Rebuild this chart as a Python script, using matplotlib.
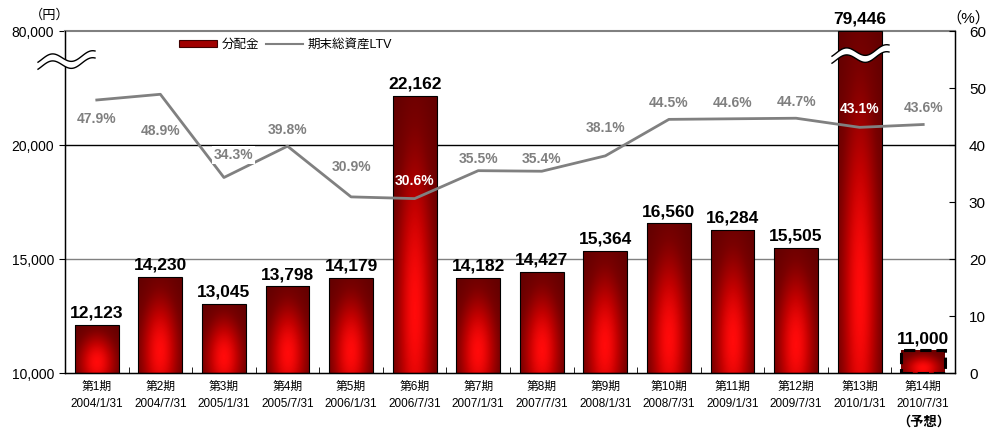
import matplotlib.pyplot as plt
import numpy as np
from matplotlib.patches import Patch, Polygon
from matplotlib.lines import Line2D
from matplotlib.colors import LinearSegmentedColormap

# --- DATA ---
periods = ["第1期", "第2期", "第3期", "第4期", "第5期", "第6期", "第7期",
           "第8期", "第9期", "第10期", "第11期", "第12期", "第13期", "第14期"]
dates = ["2004/1/31", "2004/7/31", "2005/1/31", "2005/7/31", "2006/1/31",
         "2006/7/31", "2007/1/31", "2007/7/31", "2008/1/31", "2008/7/31",
         "2009/1/31", "2009/7/31", "2010/1/31", "2010/7/31"]
dividend = [12123, 14230, 13045, 13798, 14179, 22162, 14182,
            14427, 15364, 16560, 16284, 15505, 79446, 11000]
ltv = [47.9, 48.9, 34.3, 39.8, 30.9, 30.6, 35.5,
       35.4, 38.1, 44.5, 44.6, 44.7, 43.1, 43.6]
# label heights (in % units) for the LTV annotations
ltv_label_y = [44.6, 42.5, 38.2, 42.6, 36.1, 33.7, 37.5,
               37.5, 43.0, 47.4, 47.4, 47.6, 46.3, 46.5]

FONT = ['Liberation Sans', 'Noto Sans CJK JP', 'DejaVu Sans']
plt.rcParams['font.family'] = FONT

Y_MIN, Y_CUT = 10000, 25000   # axis is linear up to the cut, which is labelled 80,000

fig = plt.figure(figsize=(10, 4.29), dpi=100)
ax = fig.add_axes([0.065, 0.1305, 0.89, 0.7972])
ax.set_xlim(-0.5, 13.5)
ax.set_ylim(Y_MIN, Y_CUT)

# gridlines behind bars
ax.axhline(15000, color='#808080', lw=1, zorder=0)
ax.axhline(20000, color='black', lw=1, zorder=0)

# bar shading
cmap = LinearSegmentedColormap.from_list(
    'redbar', ['#4a0000', '#7a0000', '#c00000', '#ff0a0a'])
ny, nx = 100, 40
u = np.linspace(1, 0, ny)[:, None]     # 1 at top
v = np.linspace(0, 1, nx)[None, :]
bv = np.exp(-((u - 0.22) / 0.55) ** 2)
bh = np.exp(-((v - 0.5) / 0.42) ** 2)
shade = 0.15 + 0.85 * bv * bh

x = np.arange(len(dividend))
w = 0.69
for i, val in enumerate(dividend):
    top = min(val, Y_CUT)
    ls = '--' if i == len(dividend) - 1 else '-'
    lw = 2.2 if ls == '--' else 0.8
    bar = ax.bar(x[i], top - Y_MIN, bottom=Y_MIN, width=w,
                 facecolor='none', edgecolor='black', lw=lw, linestyle=ls,
                 zorder=3)[0]
    im = ax.imshow(shade, cmap=cmap, vmin=0, vmax=1, aspect='auto',
                   extent=(x[i] - w / 2, x[i] + w / 2, Y_MIN, top),
                   zorder=2, interpolation='bilinear')
    im.set_clip_path(bar)
    ax.text(x[i], top + 180, f"{val:,}", ha='center', va='bottom',
            fontsize=12.5, fontweight='bold', clip_on=False, zorder=5)
ax.set_xlim(-0.5, 13.5)
ax.set_ylim(Y_MIN, Y_CUT)

ax.set_yticks([10000, 15000, 20000, 25000])
ax.set_yticklabels(["10,000", "15,000", "20,000", "80,000"], fontsize=10)
ax.tick_params(axis='y', direction='out', length=4, pad=4)
ax.set_xticks(x)
ax.set_xticklabels([f"{p}\n{d}" for p, d in zip(periods, dates)],
                   fontsize=8.5, linespacing=1.55)
ax.tick_params(axis='x', length=0, pad=6)
ax.set_xticks(x[:-1] + 0.5, minor=True)
ax.tick_params(axis='x', which='minor', direction='in', length=4)
ax.spines['top'].set_color('#808080')
ax.spines['top'].set_linewidth(1.5)
for s in ('left', 'bottom', 'right'):
    ax.spines[s].set_linewidth(1)

# LTV line
ax2 = ax.twinx()
ax2.set_ylim(0, 60)
ax2.set_yticks(range(0, 61, 10))
ax2.tick_params(axis='y', direction='in', length=4, labelsize=11, pad=10)
ax2.plot(x, ltv, color='#808080', lw=2, zorder=4)
for i, (val, ly) in enumerate(zip(ltv, ltv_label_y)):
    inside = i in (5, 12)
    dx = 0.15 if i == 2 else 0
    kw = {}
    if i == 2:
        kw['bbox'] = dict(facecolor='white', edgecolor='none', pad=1.5)
    ax2.text(x[i] + dx, ly, f"{val}%", ha='center', va='center',
             fontsize=10, fontweight='bold',
             color='white' if inside else '#808080', zorder=6, **kw)
ax2.spines['top'].set_visible(False)

fig.text(0.05, 0.965, "（円）", ha='center', va='center', fontsize=9.5)
fig.text(0.968, 0.958, "（%）", ha='center', va='center', fontsize=11)
fig.text(0.924, 0.016, "（予想）", ha='center', va='center', fontsize=9.5,
         fontweight='bold')

# legend
handles = [Patch(facecolor='#a00000', edgecolor='#400000', lw=0.8),
           Line2D([0], [0], color='#808080', lw=1.5)]
fig.legend(handles, ["分配金", "期末総資産LTV"], loc='upper left',
           bbox_to_anchor=(0.168, 0.935), ncol=2, frameon=False, fontsize=9,
           handlelength=3.0, handleheight=0.5, columnspacing=0.5,
           handletextpad=0.4)


# break marks (pixel coordinates of the figure)
def wave_break(x0, y_peak):
    xs = np.linspace(x0, x0 + 57, 90)
    y_up = (y_peak + 4) - 4.5 * np.cos(2 * np.pi * (xs - x0 - 14) / 40) \
        - 0.08 * (xs - x0 - 57)
    y_lo = y_up + 7
    W, H = 1000, 429
    poly = np.column_stack([np.r_[xs, xs[::-1]], np.r_[y_up, y_lo[::-1]]])
    poly[:, 0] /= W
    poly[:, 1] = 1 - poly[:, 1] / H
    fig.patches.append(Polygon(poly, closed=True, facecolor='white',
                               edgecolor='none', transform=fig.transFigure,
                               zorder=10))
    for yy in (y_up, y_lo):
        fig.lines.append(Line2D(xs / W, 1 - yy / H, color='black', lw=1,
                                transform=fig.transFigure, zorder=11))


wave_break(38, 51)
wave_break(832, 45)

fig.savefig('out.png', dpi=100)
